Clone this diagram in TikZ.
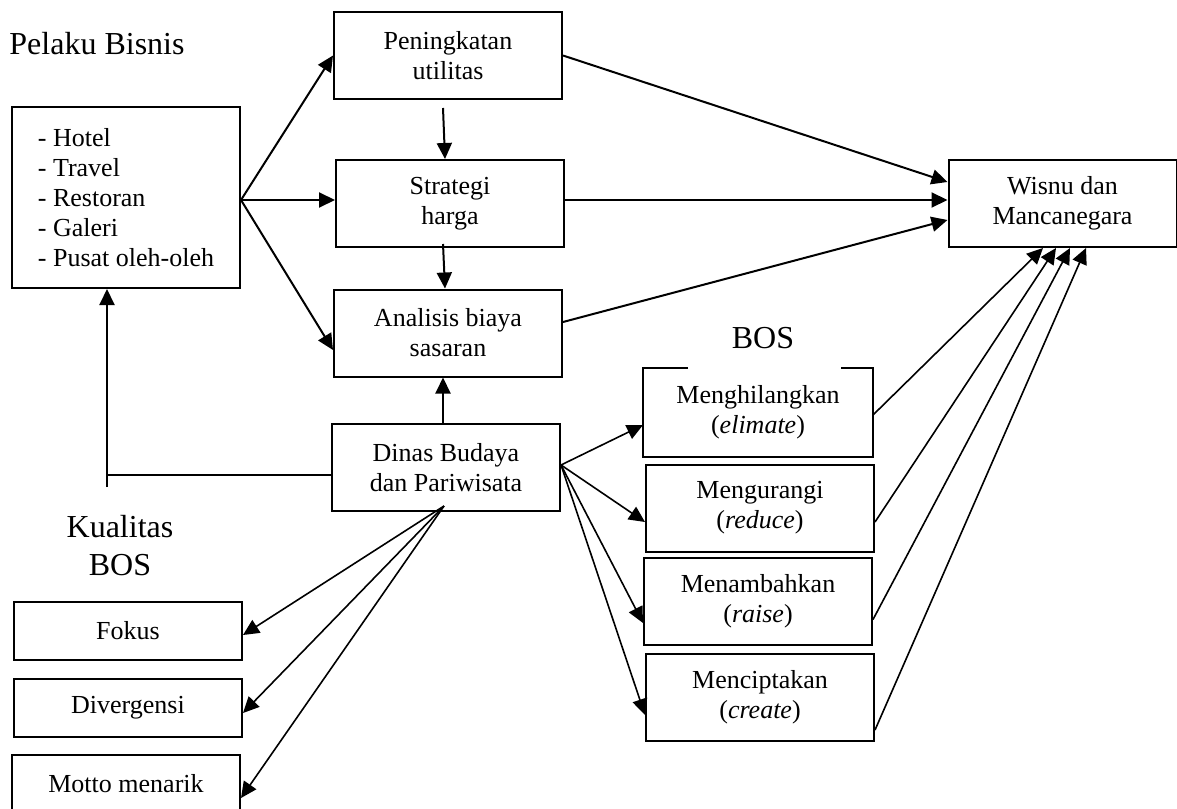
\documentclass[tikz,border=0pt]{standalone}
\usepackage{fontspec}
\setmainfont{Liberation Serif}
\usetikzlibrary{arrows.meta}
\begin{document}
\begin{tikzpicture}[
		x = 0.5pt, y = -0.5pt,
		every node/.style = {font = \fontsize{13}{15}\selectfont},
		box/.style = {draw, line width=1pt, minimum width=114pt, minimum height=43.5pt, inner sep=0pt, align=center},
		qbox/.style = {box, minimum height=29pt},
		title/.style = {font = \fontsize{16}{19}\selectfont, align=center},
		arr/.style = {-{Triangle[length=8pt,width=7.5pt]}, line width=1pt},
		thinarr/.style = {arr, line width=0.8pt}
	]

	\useasboundingbox (0,0) rectangle (1177,808);

	\node[title, anchor=base] (pel) at (97,55) {Pelaku Bisnis};
	\node[box, minimum height=90.5pt, align=left] (biz) at (126,197.5) {- Hotel\\- Travel\\- Restoran\\- Galeri\\- Pusat oleh-oleh};

	\node[box] (pen) at (448,55.5) {Peningkatan\\utilitas};
	\node[box] (str) at (450,203.5) {Strategi\\harga};
	\node[box] (ana) at (448,333) {Analisis biaya\\sasaran};
	\node[box] (din) at (446,467.5) {Dinas Budaya\\dan Pariwisata};
	\node[box] (wis) at (1062.5,203.5) {Wisnu dan\\Mancanegara};

	\node[title] (bos) at (763,338) {BOS};
	\node[box, draw=none] (m1) at (758,412) {Menghilangkan\\(\textit{elimate})};
	\node[box] (m2) at (760,508) {Mengurangi\\(\textit{reduce})};
	\node[box] (m3) at (758,601.5) {Menambahkan\\(\textit{raise})};
	\node[box] (m4) at (760,697) {Menciptakan\\(\textit{create})};
	\draw[line width=1pt] ([xshift=22.5pt]m1.north west) -- (m1.north west) -- (m1.south west)
		-- (m1.south east) -- (m1.north east) -- ([xshift=-16pt]m1.north east);

	\node[title] (kual) at (120,546) {Kualitas\\BOS};
	\node[qbox] (fok) at (128,631) {Fokus};
	\node[qbox] (div) at (128,708) {Divergensi};
	\node[qbox] (mot) at (126,784) {Motto menarik};

	\draw[arr] ([yshift=-1.25pt]biz.east) -- (pen.west);
	\draw[arr] ([yshift=-1.25pt]biz.east) -- ([yshift=1.75pt]str.west);
	\draw[arr] ([yshift=-1.25pt]biz.east) -- ([yshift=-8.5pt]ana.west);

	\draw[arr] ([xshift=-2.5pt,yshift=-4pt]pen.south) -- ([xshift=-2.5pt]str.north);
	\draw[arr] ([xshift=-3.5pt,yshift=2pt]str.south) -- ([xshift=-1.5pt]ana.north);
	\draw[arr] ([xshift=-1.5pt]din.north) -- ([xshift=-2.5pt]ana.south);

	\draw[arr] (pen.east) -- ([yshift=10.75pt]wis.west);
	\draw[arr] ([yshift=1.75pt]str.east) -- ([yshift=1.75pt]wis.west);
	\draw[arr] ([yshift=5.5pt]ana.east) -- ([yshift=-8.25pt]wis.west);

	\coordinate (tail) at (107,487);
	\draw[line width=1pt] ([yshift=-3.75pt]din.west) -- ([yshift=-3.75pt]din.west -| tail);
	\draw[arr] (tail) -- (tail |- biz.south);

	\foreach \n/\d in {fok/-2pt, div/-2.5pt, mot/-7pt}{
		\draw[thinarr] ([xshift=-1pt,yshift=3pt]din.south) -- ([yshift=\d]\n.east);
	}

	\foreach \n/\d in {m1/-6.5pt, m2/-7pt, m3/-10.75pt, m4/-9pt}{
		\draw[thinarr] ([yshift=1.25pt]din.east) -- ([yshift=\d]\n.west);
	}

	\foreach \n/\d/\s in {m1/-1.5pt/-9.75pt, m2/-7pt/-3.25pt, m3/-9pt/3.75pt, m4/-16.5pt/11.75pt}{
		\draw[thinarr] ([yshift=\d]\n.east) -- ([xshift=\s]wis.south);
	}

\end{tikzpicture}
\end{document}
